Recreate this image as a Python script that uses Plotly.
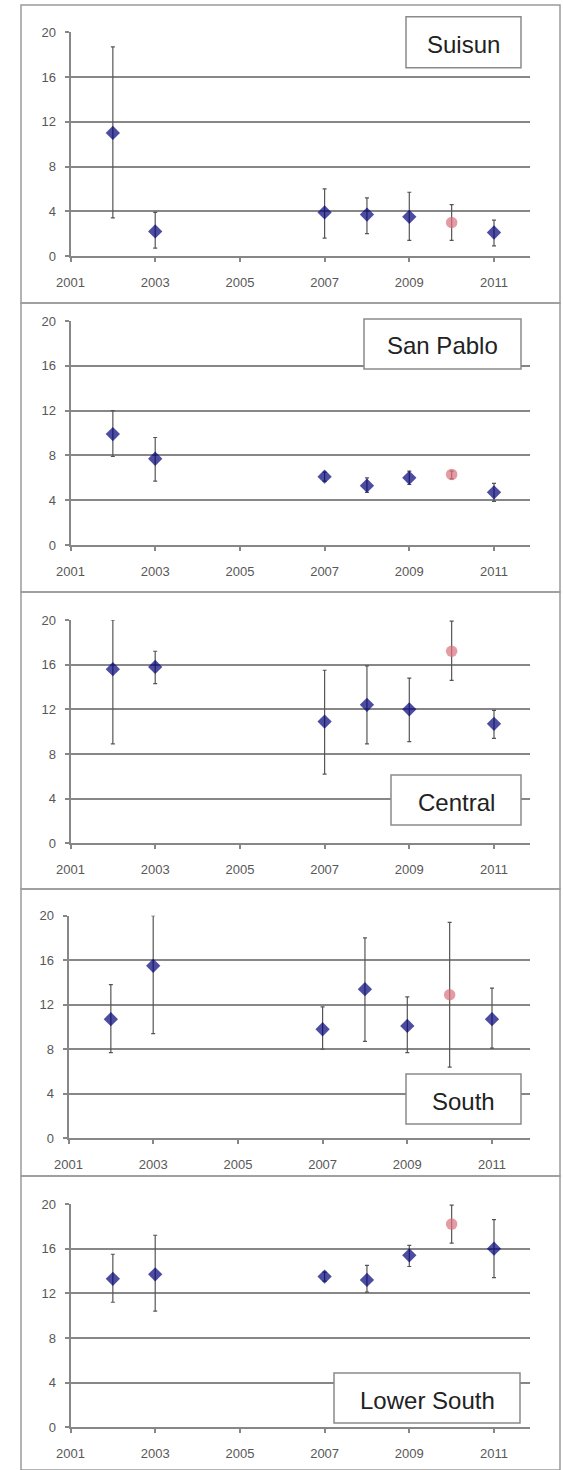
import plotly.graph_objects as go

W, H = 563, 1470

# Survey years (shared by all five regions)
years = [2002, 2003, 2007, 2008, 2009, 2010, 2011]

# Region names
regions = ["Suisun", "San Pablo", "Central", "South", "Lower South"]

# Mean values and the upper / lower ends of each error bar
suisun_mean = [11.0, 2.2, 3.9, 3.7, 3.5, 3.0, 2.1]
suisun_upper = [18.7, 3.9, 6.0, 5.2, 5.7, 4.6, 3.2]
suisun_lower = [3.4, 0.7, 1.6, 2.0, 1.4, 1.4, 0.9]

sanpablo_mean = [9.9, 7.7, 6.1, 5.3, 6.0, 6.3, 4.7]
sanpablo_upper = [12.0, 9.6, 6.5, 6.0, 6.6, 6.6, 5.5]
sanpablo_lower = [7.9, 5.7, 5.7, 4.7, 5.4, 5.9, 3.9]

central_mean = [15.6, 15.8, 10.9, 12.4, 12.0, 17.2, 10.7]
central_upper = [20.0, 17.2, 15.5, 15.9, 14.8, 19.9, 11.9]
central_lower = [8.9, 14.3, 6.2, 8.9, 9.1, 14.6, 9.4]

south_mean = [10.7, 15.5, 9.8, 13.4, 10.1, 12.9, 10.7]
south_upper = [13.8, 20.0, 11.8, 18.0, 12.7, 19.4, 13.5]
south_lower = [7.7, 9.4, 8.0, 8.7, 7.7, 6.4, 8.1]

lowersouth_mean = [13.3, 13.7, 13.5, 13.2, 15.4, 18.2, 16.0]
lowersouth_upper = [15.5, 17.2, 13.9, 14.5, 16.3, 19.9, 18.6]
lowersouth_lower = [11.2, 10.4, 13.1, 12.1, 14.4, 16.5, 13.4]

# Axis ticks
y_ticks = [0, 4, 8, 12, 16, 20]
x_ticks = [2001, 2003, 2005, 2007, 2009, 2011]

# Year drawn with the highlighted (circle) marker
highlight_year = 2010

series = [
    (suisun_mean, suisun_upper, suisun_lower),
    (sanpablo_mean, sanpablo_upper, sanpablo_lower),
    (central_mean, central_upper, central_lower),
    (south_mean, south_upper, south_lower),
    (lowersouth_mean, lowersouth_upper, lowersouth_lower),
]

# Layout in pixels: plot top / bottom, left axis x, right edge
panel_rows = [(32.3, 256.0), (321.0, 545.0), (620.0, 843.3), (915.7, 1138.3), (1204.0, 1427.3)]
panel_left = [70.5, 70.5, 70.5, 68.5, 70.5]
panel_right = 530.0
px_per_year = 42.35
frame_edges = [5, 303, 592, 889, 1176, 1470]
label_boxes = [(406, 521, 16.7, 67.7), (364, 521, 319, 369), (391, 521, 775, 825),
               (406, 521, 1074, 1124), (334, 520, 1373, 1423)]

NAVY = "#000078"
PINK = "#d8707c"
GRID = "#878787"
TICKTXT = "#585858"
FONT = "Liberation Sans, Arial, sans-serif"


def fx(px):
    return px / W


def fy(py):
    return 1 - py / H


fig = go.Figure()
layout = dict(
    width=W, height=H, margin=dict(l=0, r=0, t=0, b=0, pad=0), autosize=False,
    paper_bgcolor="white", plot_bgcolor="white", showlegend=False,
    font=dict(family=FONT),
)
shapes = []
annotations = []

for i, (name, (mean, upper, lower)) in enumerate(zip(regions, series)):
    n = "" if i == 0 else str(i + 1)
    plus = [u - m for u, m in zip(upper, mean)]
    minus = [m - l for m, l in zip(mean, lower)]
    colors = [PINK if yr == highlight_year else NAVY for yr in years]
    symbols = ["circle" if yr == highlight_year else "diamond" for yr in years]
    sizes = [11.5 if yr == highlight_year else 11 for yr in years]
    fig.add_trace(go.Scatter(
        x=years, y=mean, mode="markers", xaxis="x" + n, yaxis="y" + n,
        marker=dict(color=colors, symbol=symbols, size=sizes, line=dict(width=0)),
        error_y=dict(type="data", symmetric=False, array=plus, arrayminus=minus,
                     color="#555555", thickness=1.2, width=2),
        cliponaxis=False,
    ))

    top, bottom = panel_rows[i]
    left = panel_left[i]
    x_end = 2001 + (panel_right - left) / px_per_year
    layout["xaxis" + n] = dict(
        domain=[fx(left), fx(panel_right)], anchor="y" + n, automargin=False,
        range=[2001, x_end], tickvals=x_ticks, ticktext=[str(t) for t in x_ticks],
        showgrid=False, zeroline=False, showline=True, linecolor=GRID, linewidth=2,
        ticks="outside", ticklen=4, tickcolor=GRID, tickwidth=1.5,
        tickfont=dict(size=13, color=TICKTXT, family=FONT), ticklabelstandoff=9,
        fixedrange=True,
    )
    layout["yaxis" + n] = dict(
        domain=[fy(bottom), fy(top)], anchor="x" + n, automargin=False,
        range=[0, 20], tickvals=y_ticks,
        showgrid=True, gridcolor=GRID, gridwidth=2, zeroline=False,
        showline=True, linecolor=GRID, linewidth=2,
        ticks="outside", ticklen=4, tickcolor=GRID, tickwidth=1.5,
        tickfont=dict(size=13, color=TICKTXT, family=FONT), ticklabelstandoff=6,
        fixedrange=True,
    )

    # Outer frame of each panel
    shapes.append(dict(type="rect", xref="paper", yref="paper",
                       x0=fx(21), x1=fx(560), y0=fy(frame_edges[i + 1]), y1=fy(frame_edges[i]),
                       line=dict(color="#9a9a9a", width=1.5), fillcolor="rgba(0,0,0,0)",
                       layer="above"))

    # Region name box
    bx0, bx1, by0, by1 = label_boxes[i]
    shapes.append(dict(type="rect", xref="paper", yref="paper",
                       x0=fx(bx0), x1=fx(bx1), y0=fy(by1), y1=fy(by0),
                       line=dict(color="#8a8a8a", width=1.5), fillcolor="white",
                       layer="above"))
    annotations.append(dict(xref="paper", yref="paper", x=fx((bx0 + bx1) / 2),
                            y=fy((by0 + by1) / 2 + 2), text=name, showarrow=False,
                            xanchor="center", yanchor="middle",
                            font=dict(size=24, color="#222222", family=FONT)))

layout["shapes"] = shapes
layout["annotations"] = annotations
fig.update_layout(**layout)

fig.write_html("out.html", config={"displayModeBar": False})
